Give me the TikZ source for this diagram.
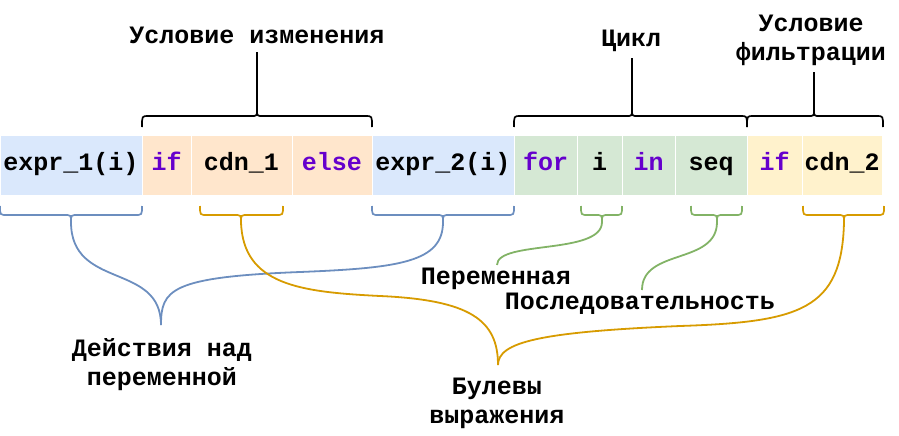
\documentclass[tikz,border=0pt]{standalone}
\usepackage{fontspec}
\setmainfont{Liberation Mono}
\setmonofont{Liberation Mono}

\definecolor{cellBlue}{HTML}{DAE8FC}
\definecolor{cellOrange}{HTML}{FFE6CC}
\definecolor{cellGreen}{HTML}{D5E8D4}
\definecolor{cellYellow}{HTML}{FFF2CC}
\definecolor{lnBlue}{HTML}{6C8EBF}
\definecolor{lnOrange}{HTML}{D79B00}
\definecolor{lnGreen}{HTML}{82B366}
\definecolor{kwPurple}{HTML}{6600CC}

\tikzset{
	every node/.style={font=\fontsize{25}{29}\selectfont\bfseries},
	cell/.style={draw=white, line width=0.6pt, minimum height=60pt, inner sep=0pt, text height=16pt, text depth=5pt},
	kw/.style={text=kwPurple},
	lbl/.style={align=center, inner sep=0pt, anchor=north},
	brc/.style={line width=1.7pt},
	conn/.style={line width=1.8pt}
}

\begin{document}
\begin{tikzpicture}[x=1pt, y=-1pt]
				\useasboundingbox (0,0) rectangle (899,436);
				
				% ячейки выражения
				\node[cell, fill=cellBlue, minimum width=142pt] (e1) at (71,165) {expr\_1(i)};
				\node[cell, fill=cellOrange, kw, minimum width=49pt] (if1) at (166.5,165) {if};
				\node[cell, fill=cellOrange, minimum width=101pt] (c1) at (241.5,165) {cdn\_1};
				\node[cell, fill=cellOrange, kw, minimum width=80pt] (el) at (332,165) {else};
				\node[cell, fill=cellBlue, minimum width=142pt] (e2) at (443,165) {expr\_2(i)};
				\node[cell, fill=cellGreen, kw, minimum width=63pt] (fo) at (545.5,165) {for};
				\node[cell, fill=cellGreen, minimum width=45pt] (vi) at (599.5,165) {i};
				\node[cell, fill=cellGreen, kw, minimum width=53pt] (in) at (648.5,165) {in};
				\node[cell, fill=cellGreen, minimum width=72pt] (sq) at (711,165) {seq};
				\node[cell, fill=cellYellow, kw, minimum width=55pt] (if2) at (774.5,165) {if};
				\node[cell, fill=cellYellow, minimum width=80pt] (c2) at (842,165) {cdn\_2};
				
				% подписи
				\node[lbl] (lIzm) at (257,27) {Условие изменения};
				\node[lbl] (lCycle) at (631,30) {Цикл};
				\node[lbl] (lFilt) at (811,15) {Условие\\фильтрации};
				\node[lbl] (lAct) at (162,338) {Действия над\\переменной};
				\node[lbl] (lBool) at (497,378) {Булевы\\выражения};
				\node[lbl] (lVar) at (496,268) {Переменная};
				\node[lbl] (lSeq) at (640,293) {Последовательность};
				
				% верхние скобки
				\foreach \xa/\xb/\xm/\nm in {142/372/257/tIzm, 514/747/632/tCycle, 747/883/814/tFilt} {
					\draw[brc] (\xa,127) .. controls (\xa,116) .. (\xa+6,116) -- (\xm-6,116)
						.. controls (\xm,116) .. (\xm,110) .. controls (\xm,116) .. (\xm+6,116)
						-- (\xb-6,116) .. controls (\xb,116) .. (\xb,127);
					\coordinate (\nm) at (\xm,110);
				}
				\draw[brc, shorten >=8pt] (tIzm) -- (tIzm |- lIzm.south);
				\draw[brc, shorten >=6pt] (tCycle) -- (tCycle |- lCycle.south);
				\draw[brc, shorten >=6pt] (tFilt) -- (tFilt |- lFilt.south);
				
				% нижние скобки
				\foreach \xa/\xb/\xm/\c/\nm in {0/142/71/lnBlue/bE1, 200/283/241/lnOrange/bC1, 372/514/443/lnBlue/bE2,
					581/622/602/lnGreen/bVi, 691/742/717/lnGreen/bSq, 803/884/844/lnOrange/bC2} {
					\draw[brc, \c] (\xa,206) .. controls (\xa,215) .. (\xa+7,215) -- (\xm-7,215)
						.. controls (\xm,215) .. (\xm,222) .. controls (\xm,215) .. (\xm+7,215)
						-- (\xb-7,215) .. controls (\xb,215) .. (\xb,206);
					\coordinate (\nm) at (\xm,222);
				}
				
				\coordinate (tAct) at (161,325);
				\coordinate (tBool) at (498,365);
				\coordinate (tVar) at (497,265);
				\coordinate (tSeq) at (642,290);
				
				% линии к подписям
				\draw[conn, lnBlue] (bE1) .. controls (71,290) and (161,262) .. (tAct);
				\draw[conn, lnBlue] (bE2) .. controls (443,262) and (400,268) .. (300,272)
					.. controls (170,277) and (161,290) .. (tAct);
				\draw[conn, lnOrange] (bC1) .. controls (243,285) and (300,292) .. (380,296)
					.. controls (470,300) and (498,320) .. (tBool);
				\draw[conn, lnOrange] (bC2) .. controls (842,310) and (800,322) .. (680,326)
					.. controls (540,332) and (498,342) .. (tBool);
				\draw[conn, lnGreen] (bVi) .. controls (602,255) and (497,240) .. (tVar);
				\draw[conn, lnGreen] (bSq) .. controls (717,265) and (642,248) .. (tSeq);
				
			\end{tikzpicture}
\end{document}
